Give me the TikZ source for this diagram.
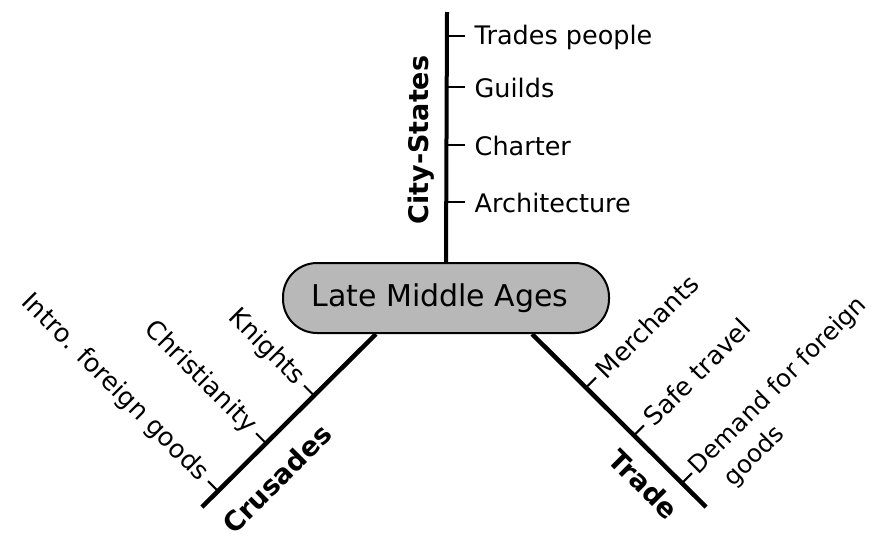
\documentclass[tikz,border=0pt]{standalone}
\usepackage{fontspec}
\setmainfont{DejaVu Sans}
\usetikzlibrary{calc}
\tikzset{
  branch/.style={line width=4.5pt},
  stem/.style={line width=4pt},
  tickline/.style={line width=2pt},
  lbl/.style={inner sep=1.5pt, font=\fontsize{25.5}{34}\selectfont},
  bigl/.style={inner sep=0pt, font=\fontsize{27}{32}\selectfont\bfseries},
  hub/.style={draw, line width=2pt, fill=black!28, rounded corners=34pt,
    minimum width=326pt, minimum height=70pt, inner sep=0pt,
    font=\fontsize{30}{36}\selectfont}
}
\begin{document}
\begin{tikzpicture}[x=1pt,y=-1pt]
\useasboundingbox (0,0) rectangle (877,539);
% hub
\node[hub] (lma) at (446,298) {Late Middle Ages\hspace*{12pt}};
% vertical stem
\coordinate (vtop) at (447,12);
\draw[stem] (lma.north) -- (vtop);
\foreach \yy/\nm/\txt in {36/v1/Trades people, 87/v2/Guilds, 145/v3/Charter, 202/v4/Architecture}{
  \coordinate (\nm) at (447,\yy);
  \draw[tickline] (\nm) -- ++(18,0) coordinate (\nm e);
  \node[lbl, anchor=west] (\nm t) at ($(\nm e)+(8,1)$) {\txt};
}
\node[bigl, rotate=90] (cs) at (421,140) {City-States};
% left branch
\coordinate (L1) at (202,507);
\draw[branch] ([xshift=-70pt]lma.south) coordinate (L0) -- (L1);
\foreach \p/\nm/\txt in {0.356/k/Knights, 0.632/c/Christianity, 0.908/i/Intro. foreign goods}{
  \coordinate (\nm) at ($(L0)!\p!(L1)$);
  \draw[tickline] (\nm) -- ++(-10,-10) coordinate (\nm e);
  \node[lbl, rotate=-45, anchor=east] (\nm t) at ($(\nm e)+(-3,-3)$) {\txt};
}
\node[bigl, rotate=45] (cru) at (277,479) {Crusades};
% right branch
\coordinate (R1) at (706,507);
\draw[branch] ([xshift=86pt]lma.south) coordinate (R0) -- (R1);
\foreach \p/\nm/\txt in {0.31/m/Merchants, 0.586/s/Safe travel}{
  \coordinate (\nm) at ($(R0)!\p!(R1)$);
  \draw[tickline] (\nm) -- ++(10,-10) coordinate (\nm e);
  \node[lbl, rotate=45, anchor=west] (\nm t) at ($(\nm e)+(3,-3)$) {\txt};
}
\coordinate (d) at ($(R0)!0.862!(R1)$);
\draw[tickline] (d) -- ++(10,-10) coordinate (de);
\node[lbl, font=\fontsize{24.5}{33}\selectfont, rotate=45, anchor=north west, align=left] (dt) at ($(de)+(-9,-11)$) {Demand for foreign\\\hspace*{16pt}goods};
\node[bigl, rotate=-45] (tr) at (644,484) {Trade};
\end{tikzpicture}
\end{document}
